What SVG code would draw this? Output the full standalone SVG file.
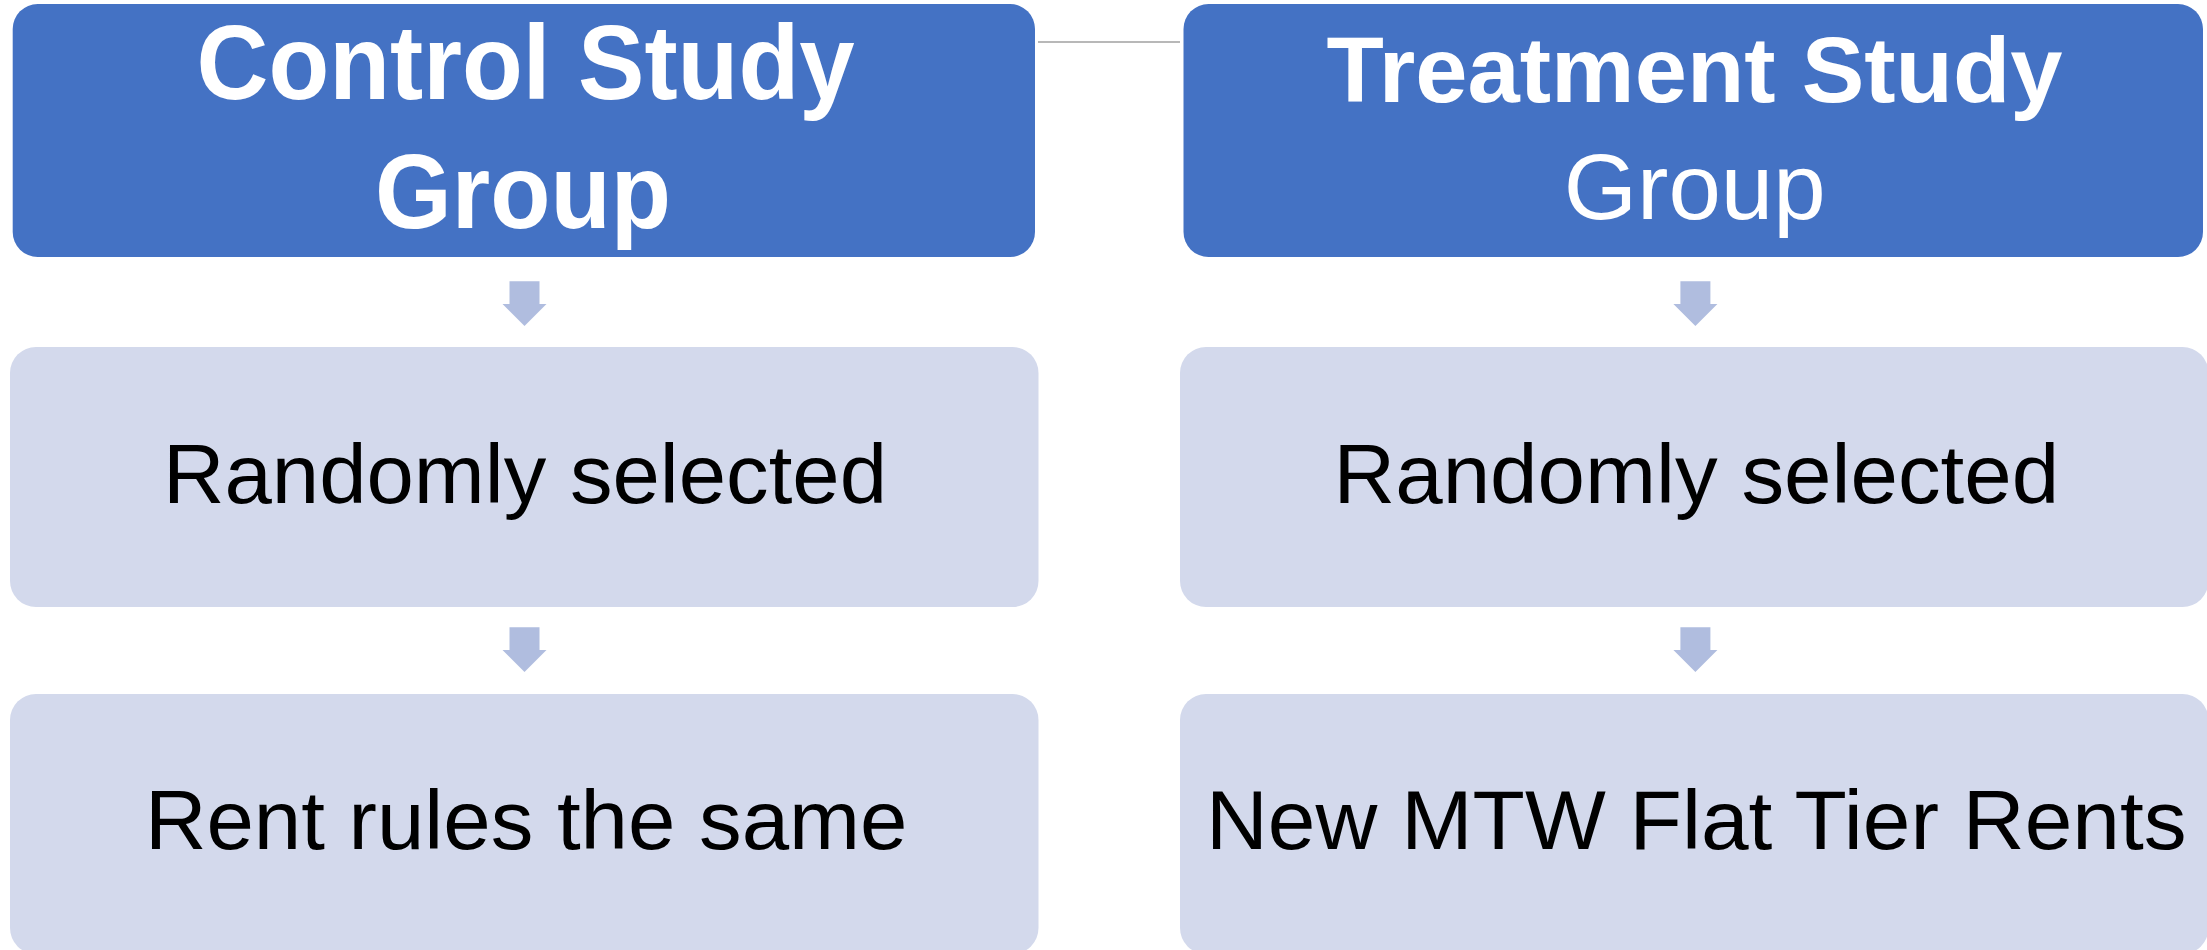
<svg xmlns="http://www.w3.org/2000/svg" xmlns:xlink="http://www.w3.org/1999/xlink" width="2207" height="950" viewBox="0 0 2207 950">
  <style>
    .head { fill: #4472C4; }
    .step { fill: #D3D9EC; }
    .t { font-family: "Liberation Sans", Arial, sans-serif; text-anchor: middle; }
    .hb { fill: #FFFFFF; font-weight: bold; }
    .hr { fill: #FFFFFF; font-weight: normal; }
    .body { fill: #000000; font-size: 84px; }
    .arrow { fill: #B0BDDF; }
    .link { stroke: #A0A0A0; stroke-width: 1.5; fill: none; }
  </style>
  <defs>
    <path id="dn" d="M -15 0 L 15 0 L 15 22.7 L 22 22.7 L 0 44.7 L -22 22.7 L -15 22.7 Z"/>
  </defs>
  <rect width="2207" height="950" fill="#FFFFFF"/>

  <g id="connectors">
    <line class="link" x1="1038" y1="42" x2="1180" y2="42"/>
    <use href="#dn" class="arrow" transform="translate(524.5 281.3)"/>
    <use href="#dn" class="arrow" transform="translate(524.5 627.3)"/>
    <use href="#dn" class="arrow" transform="translate(1695.4 281.3)"/>
    <use href="#dn" class="arrow" transform="translate(1695.4 627.3)"/>
  </g>

  <g id="control-head">
    <rect class="head" x="12.7" y="4" width="1022.3" height="253" rx="25" ry="25"/>
    <text class="t hb" x="525.6" y="99.3" font-size="105" textLength="658" lengthAdjust="spacingAndGlyphs">Control Study</text>
    <text class="t hb" x="523" y="228.3" font-size="105" textLength="296" lengthAdjust="spacingAndGlyphs">Group</text>
  </g>

  <g id="treatment-head">
    <rect class="head" x="1183.5" y="4" width="1019.5" height="253" rx="25" ry="25"/>
    <text class="t hb" x="1694.6" y="101.7" font-size="93" textLength="736" lengthAdjust="spacingAndGlyphs">Treatment Study</text>
    <text class="t hr" x="1694.7" y="219.3" font-size="93" textLength="262" lengthAdjust="spacingAndGlyphs">Group</text>
  </g>

  <g id="control-random">
    <rect class="step" x="10" y="347" width="1028.5" height="260" rx="26" ry="26"/>
    <text class="t body" x="525" y="503.3" textLength="724" lengthAdjust="spacingAndGlyphs">Randomly selected</text>
  </g>

  <g id="treatment-random">
    <rect class="step" x="1180" y="347" width="1028.5" height="260" rx="26" ry="26"/>
    <text class="t body" x="1696.4" y="503.3" textLength="725.6" lengthAdjust="spacingAndGlyphs">Randomly selected</text>
  </g>

  <g id="control-rent">
    <rect class="step" x="10" y="694" width="1028.5" height="260" rx="26" ry="26"/>
    <text class="t body" x="526.2" y="849.3" textLength="762.5" lengthAdjust="spacingAndGlyphs">Rent rules the same</text>
  </g>

  <g id="treatment-rent">
    <rect class="step" x="1180" y="694" width="1028.5" height="260" rx="26" ry="26"/>
    <text class="t body" x="1696.3" y="849.3" textLength="980.6" lengthAdjust="spacingAndGlyphs">New MTW Flat Tier Rents</text>
  </g>
</svg>
